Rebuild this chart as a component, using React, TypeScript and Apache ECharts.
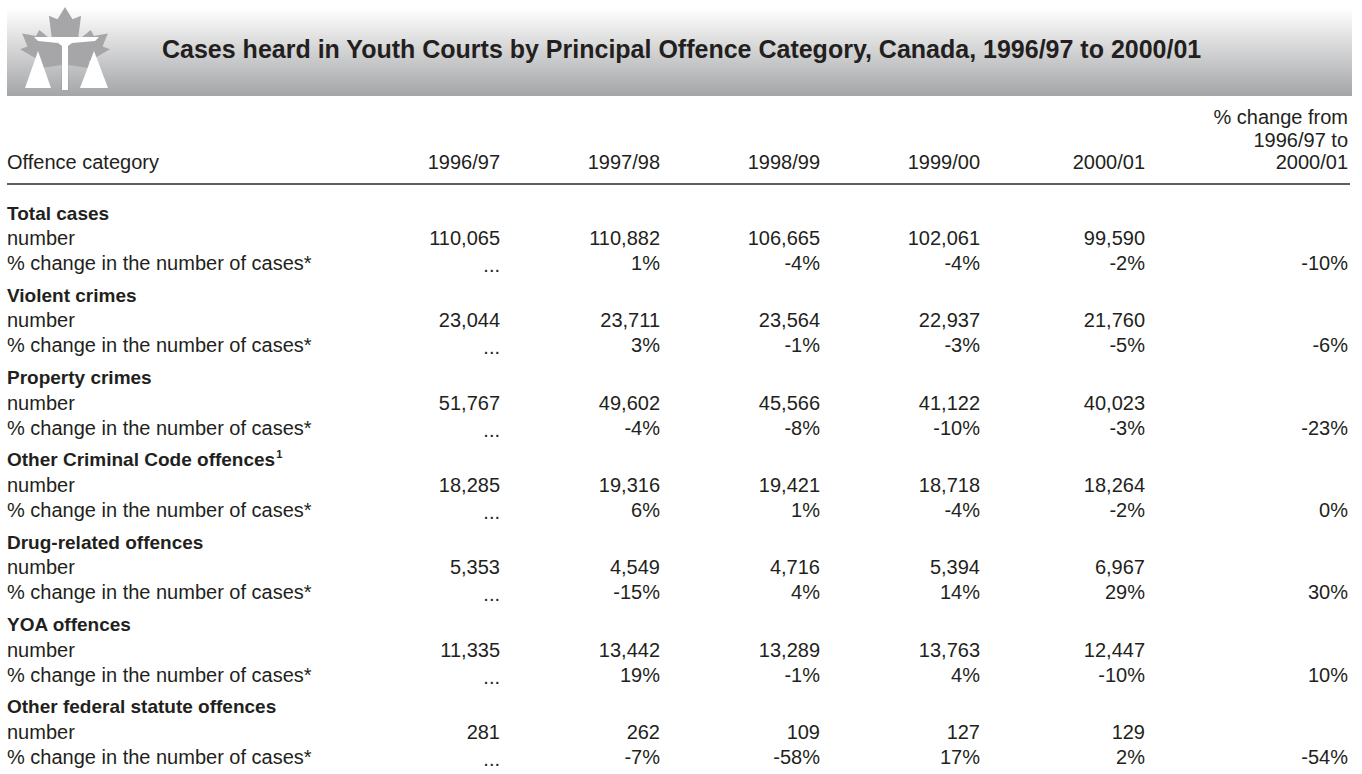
import React, { useEffect, useRef } from "react";
import * as echarts from "echarts";

const title = "Cases heard in Youth Courts by Principal Offence Category, Canada, 1996/97 to 2000/01";
const firstColumnLabel = "Offence category";
const years = ["1996/97", "1997/98", "1998/99", "1999/00", "2000/01"];
const changeHeader = ["% change from", "1996/97 to", "2000/01"];
const rowLabels = ["number", "% change in the number of cases*"];

const categories = [
  "Total cases",
  "Violent crimes",
  "Property crimes",
  "Other Criminal Code offences",
  "Drug-related offences",
  "YOA offences",
  "Other federal statute offences",
];
const footnoteMarks = ["", "", "", "1", "", "", ""];

const totalNumbers = [110065, 110882, 106665, 102061, 99590];
const violentNumbers = [23044, 23711, 23564, 22937, 21760];
const propertyNumbers = [51767, 49602, 45566, 41122, 40023];
const otherCCNumbers = [18285, 19316, 19421, 18718, 18264];
const drugNumbers = [5353, 4549, 4716, 5394, 6967];
const yoaNumbers = [11335, 13442, 13289, 13763, 12447];
const otherFedNumbers = [281, 262, 109, 127, 129];

const totalPct = [null, 1, -4, -4, -2];
const violentPct = [null, 3, -1, -3, -5];
const propertyPct = [null, -4, -8, -10, -3];
const otherCCPct = [null, 6, 1, -4, -2];
const drugPct = [null, -15, 4, 14, 29];
const yoaPct = [null, 19, -1, 4, -10];
const otherFedPct = [null, -7, -58, 17, 2];

const overallChange = [-10, -6, -23, 0, 30, 10, -54];

const numbersByCategory = [totalNumbers, violentNumbers, propertyNumbers, otherCCNumbers, drugNumbers, yoaNumbers, otherFedNumbers];
const pctByCategory = [totalPct, violentPct, propertyPct, otherCCPct, drugPct, yoaPct, otherFedPct];

const W = 1362;
const H = 774;
const FONT = "'Liberation Sans', Arial, sans-serif";
const TEXT = "#231f20";

function fmtNum(v: number) {
  return v.toLocaleString("en-US");
}
function fmtPct(v: number | null) {
  return v === null ? "..." : `${v}%`;
}

export default function App() {
  const ref = useRef<HTMLDivElement>(null);
  useEffect(() => {
    document.body.style.margin = "0";
    if (!ref.current) return;
    const chart = echarts.init(ref.current, null, { renderer: "svg" });

    const colRight = [500, 660, 820, 980, 1145];
    const lastRight = 1348;
    const leftX = 7;
    const headerY = 162;
    const groupTop = 213;
    const groupStep = 82.3;
    const rowStep = 25;

    const els: any[] = [];

    // banner
    els.push({
      type: "rect",
      shape: { x: 7, y: 8, width: 1345, height: 88 },
      style: {
        fill: new echarts.graphic.LinearGradient(0, 0, 0, 1, [
          { offset: 0, color: "#ffffff" },
          { offset: 1, color: "#a4a5a7" },
        ]),
      },
      silent: true,
    });

    // logo: maple leaf
    const leaf = [
      [50, 0], [57, 14], [65, 10], [62, 38], [74, 26], [77, 33], [90, 30], [85, 45], [92, 48],
      [72, 62], [75, 70], [53, 66], [54, 96], [46, 96], [47, 66], [25, 70], [28, 62], [8, 48],
      [15, 45], [10, 30], [23, 33], [26, 26], [38, 38], [35, 10], [43, 14],
    ].map(([px, py]) => [20 + (px - 8) * (90 / 84), 7 + py * 0.88]);
    els.push({ type: "polygon", shape: { points: leaf }, style: { fill: "#a6a6a8" }, silent: true });
    // scales of justice (white)
    els.push({
      type: "polygon",
      shape: { points: [[34, 37], [99, 37], [95, 41], [72, 43], [68, 46], [62, 46], [58, 43], [38, 41]] },
      style: { fill: "#ffffff" },
      silent: true,
    });
    els.push({ type: "rect", shape: { x: 62, y: 45, width: 6, height: 45 }, style: { fill: "#ffffff" }, silent: true });
    els.push({ type: "polygon", shape: { points: [[38, 51], [25, 88], [51, 88]] }, style: { fill: "#ffffff" }, silent: true });
    els.push({ type: "polygon", shape: { points: [[94, 51], [80, 88], [108, 88]] }, style: { fill: "#ffffff" }, silent: true });

    // title
    els.push({
      type: "text",
      x: 162,
      y: 49,
      style: {
        text: title,
        font: `bold 25px ${FONT}`,
        fill: TEXT,
        textAlign: "left",
        textVerticalAlign: "middle",
      },
    });

    // header
    els.push({
      type: "text",
      x: leftX,
      y: headerY,
      style: { text: firstColumnLabel, font: `20px ${FONT}`, fill: TEXT, textAlign: "left", textVerticalAlign: "middle" },
    });
    years.forEach((yr, i) => {
      els.push({
        type: "text",
        x: colRight[i],
        y: headerY,
        style: { text: yr, font: `20px ${FONT}`, fill: TEXT, textAlign: "right", textVerticalAlign: "middle" },
      });
    });
    changeHeader.forEach((t, i) => {
      els.push({
        type: "text",
        x: lastRight,
        y: headerY - (changeHeader.length - 1 - i) * 22.5,
        style: { text: t, font: `20px ${FONT}`, fill: TEXT, textAlign: "right", textVerticalAlign: "middle" },
      });
    });
    els.push({
      type: "line",
      shape: { x1: 7, y1: 184, x2: 1350, y2: 184 },
      style: { stroke: "#2a2a2a", lineWidth: 1.5 },
    });

    categories.forEach((cat, g) => {
      const y0 = groupTop + g * groupStep;
      const mark = footnoteMarks[g];
      els.push({
        type: "text",
        x: leftX,
        y: y0,
        style: mark
          ? {
              text: `{a|${cat}}{s|${mark}}`,
              rich: {
                a: { font: `bold 19px ${FONT}`, fill: TEXT, lineHeight: 22, verticalAlign: "middle" },
                s: { font: `bold 11px ${FONT}`, fill: TEXT, lineHeight: 22, verticalAlign: "top", padding: [0, 0, 0, 1] },
              },
              textAlign: "left",
              textVerticalAlign: "middle",
            }
          : { text: cat, font: `bold 19px ${FONT}`, fill: TEXT, textAlign: "left", textVerticalAlign: "middle" },
      });
      rowLabels.forEach((lbl, r) => {
        els.push({
          type: "text",
          x: leftX,
          y: y0 + (r + 1) * rowStep,
          style: { text: lbl, font: `20px ${FONT}`, fill: TEXT, textAlign: "left", textVerticalAlign: "middle" },
        });
      });
      numbersByCategory[g].forEach((v, i) => {
        els.push({
          type: "text",
          x: colRight[i],
          y: y0 + rowStep,
          style: { text: fmtNum(v), font: `20px ${FONT}`, fill: TEXT, textAlign: "right", textVerticalAlign: "middle" },
        });
      });
      pctByCategory[g].forEach((v, i) => {
        els.push({
          type: "text",
          x: colRight[i],
          y: y0 + 2 * rowStep + (v === null ? 2 : 0),
          style: { text: fmtPct(v), font: `20px ${FONT}`, fill: TEXT, textAlign: "right", textVerticalAlign: "middle" },
        });
      });
      els.push({
        type: "text",
        x: lastRight,
        y: y0 + 2 * rowStep,
        style: { text: `${overallChange[g]}%`, font: `20px ${FONT}`, fill: TEXT, textAlign: "right", textVerticalAlign: "middle" },
      });
    });

    chart.setOption({
      animation: false,
      backgroundColor: "#ffffff",
      graphic: { elements: els },
    });
    return () => chart.dispose();
  }, []);
  return <div ref={ref} style={{ width: W, height: H }} />;
}
